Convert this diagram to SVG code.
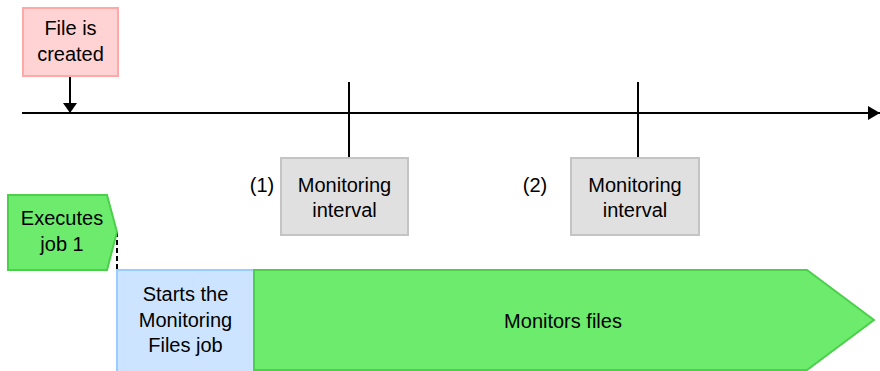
<svg xmlns="http://www.w3.org/2000/svg" width="880" height="371" viewBox="0 0 880 371">
<style>
text{font-family:"Liberation Sans",Arial,sans-serif;font-size:20px;fill:#000;text-anchor:middle}
.line{stroke:#000;stroke-width:2;fill:none}
.gray{fill:#E0E0E0;stroke:#C4C4C4;stroke-width:2}
.green{fill:#6CEB6C;stroke:#4CD04C;stroke-width:2}
</style>
<defs>
<marker id="ah" markerWidth="12" markerHeight="14" refX="10" refY="7" orient="auto" markerUnits="userSpaceOnUse">
<path d="M0,0 L10,7 L0,14 Z" fill="#000"/>
</marker>
<marker id="ah2" markerWidth="14" markerHeight="14" refX="12" refY="7" orient="auto" markerUnits="userSpaceOnUse">
<path d="M0,0 L12,7 L0,14 Z" fill="#000"/>
</marker>
</defs>
<g id="connectors">
<line class="line" x1="22" y1="113" x2="880" y2="113" marker-end="url(#ah2)"/>
<line class="line" x1="70" y1="77" x2="70" y2="113" marker-end="url(#ah)"/>
<line class="line" x1="349" y1="82" x2="349" y2="158"/>
<line class="line" x1="638" y1="82" x2="638" y2="158"/>
<line class="line" x1="117" y1="232" x2="117" y2="270" stroke-dasharray="5,3"/>
</g>
<g id="file-created">
<rect x="23" y="8" width="95" height="68" fill="#FFD3D3" stroke="#FFA8A8" stroke-width="2"/>
<text x="70.500" y="35">File is</text>
<text x="70.500" y="61">created</text>
</g>
<g id="interval1">
<text x="262" y="192">(1)</text>
<rect class="gray" x="281" y="158" width="127" height="77"/>
<text x="344.500" y="192">Monitoring</text>
<text x="344.500" y="217">interval</text>
</g>
<g id="interval2">
<text x="535" y="192">(2)</text>
<rect class="gray" x="571" y="158" width="128" height="77"/>
<text x="635" y="192">Monitoring</text>
<text x="635" y="217">interval</text>
</g>
<g id="executes-job">
<polygon class="green" points="8,195 107,195 117,232 107,270 8,270"/>
<text x="62" y="225">Executes</text>
<text x="62" y="251">job 1</text>
</g>
<g id="starts-job">
<rect x="117" y="270" width="137" height="102" fill="#CCE4FF" stroke="#99CCFF" stroke-width="2"/>
<text x="185.500" y="301">Starts the</text>
<text x="185.500" y="327">Monitoring</text>
<text x="185.500" y="352">Files job</text>
</g>
<g id="monitors-files">
<polygon class="green" points="254,270 807,270 874,320 807,370 254,370"/>
<text x="563" y="328">Monitors files</text>
</g>
</svg>
